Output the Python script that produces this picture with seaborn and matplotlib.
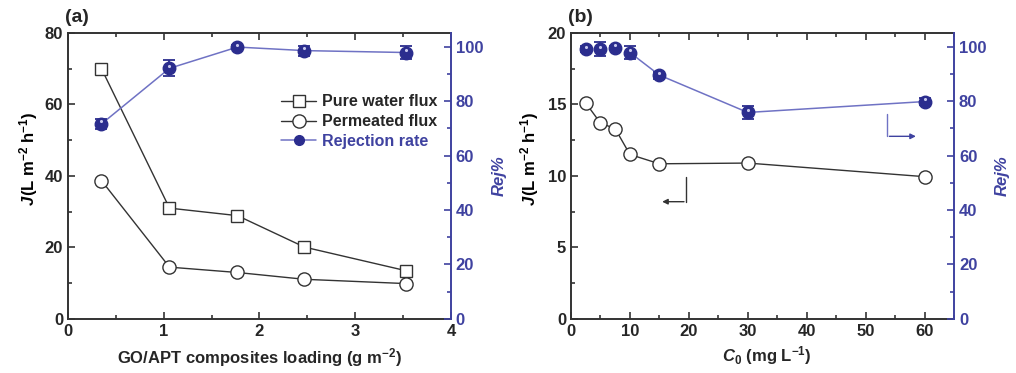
import numpy as np
import matplotlib.pyplot as plt
import seaborn as sns
import pandas as pd
from matplotlib.ticker import MultipleLocator

sns.set_theme(style="ticks")
plt.rcParams['font.family'] = ['Liberation Sans', 'DejaVu Sans']
plt.rcParams['font.weight'] = 'bold'
plt.rcParams['mathtext.fontset'] = 'custom'
plt.rcParams['mathtext.rm'] = 'Liberation Sans:weight=bold'
plt.rcParams['mathtext.it'] = 'Liberation Sans:style=italic:weight=bold'
plt.rcParams['mathtext.bf'] = 'Liberation Sans:weight=bold'
plt.rcParams['mathtext.default'] = 'rm'

# panel (a): flux / rejection vs GO/APT loading
loading = [0.35, 1.06, 1.77, 2.47, 3.53]
pure_flux = [70.0, 31.0, 28.9, 20.1, 13.5]
perm_flux = [38.7, 14.5, 13.0, 11.1, 9.9]
rej_a = [71.6, 92.0, 99.8, 98.5, 97.8]
rej_a_err = [1.8, 3.0, 0.6, 1.8, 2.4]

# panel (b): flux / rejection vs initial concentration
c0 = [2.5, 5, 7.5, 10, 15, 30, 60]
flux_b = [15.1, 13.7, 13.3, 11.5, 10.85, 10.9, 9.95]
rej_b = [99.1, 99.1, 99.5, 97.8, 89.5, 75.8, 79.8]
rej_b_err = [1.0, 2.4, 0.6, 2.4, 1.3, 2.5, 1.3]

NAVY = '#2b2d8e'
LINE_BLUE = '#6f72c4'
AX_BLUE = '#3f42a0'
DARK = '#333333'
TICK_FS = 12
LABEL_FS = 12

fig = plt.figure(figsize=(10.16, 3.73), dpi=100)
ax_a = fig.add_axes([0.0669, 0.1448, 0.377, 0.767])
ax_b = fig.add_axes([0.562, 0.1448, 0.377, 0.767])


def style_axes(ax, tw):
    for s in ['left', 'bottom', 'top']:
        ax.spines[s].set_color(DARK)
        ax.spines[s].set_linewidth(1.4)
    ax.spines['right'].set_visible(False)
    ax.tick_params(which='both', direction='in', top=True, right=False,
                   color=DARK, labelsize=TICK_FS, width=1.2)
    ax.tick_params(which='major', length=5)
    ax.tick_params(which='minor', length=3)
    for s in ['left', 'bottom', 'top']:
        tw.spines[s].set_visible(False)
    tw.spines['right'].set_color(AX_BLUE)
    tw.spines['right'].set_linewidth(1.4)
    tw.tick_params(which='both', direction='in', color=AX_BLUE,
                   labelcolor=AX_BLUE, labelsize=TICK_FS, width=1.2)
    tw.tick_params(which='major', length=5)
    tw.tick_params(which='minor', length=3)
    tw.set_ylim(0, 105)
    tw.yaxis.set_major_locator(MultipleLocator(20))
    tw.yaxis.set_minor_locator(MultipleLocator(10))
    tw.set_ylabel('Rej%', color=AX_BLUE, fontsize=LABEL_FS, fontweight='bold',
                  fontstyle='italic', labelpad=6)
    for lab in ax.get_xticklabels() + ax.get_yticklabels() + tw.get_yticklabels():
        lab.set_fontweight('bold')


def rej_plot(tw, x, y, err, line_from=0):
    tw.plot(x[line_from:], y[line_from:], color=LINE_BLUE, lw=1.1, zorder=2)
    tw.errorbar(x, y, yerr=err, fmt='o', color=NAVY, ms=9, capsize=4,
                elinewidth=1.3, capthick=1.3, zorder=3)
    tw.scatter(np.array(x), np.array(y) + 0.9, s=5, color='#c8c9ee', zorder=4,
               linewidths=0)


def j_label(x_base, y_split):
    # italic J followed by the upright unit, rotated as a y label
    kw = dict(rotation=90, rotation_mode='anchor', va='baseline',
              fontsize=LABEL_FS, fontweight='bold', color='black')
    fig.text(x_base / 1016, 1 - y_split / 373, 'J', ha='right',
             fontstyle='italic', **kw)
    fig.text(x_base / 1016, 1 - y_split / 373,
             '(L m$^{-2}$ h$^{-1}$)', ha='left', **kw)


# ---- panel (a)
df_a = pd.DataFrame({'x': loading, 'pure': pure_flux, 'perm': perm_flux})
sns.lineplot(data=df_a, x='x', y='pure', ax=ax_a, color=DARK, lw=1.0,
             marker='s', markersize=8.5, markerfacecolor='white',
             markeredgecolor=DARK, markeredgewidth=1.0)
sns.lineplot(data=df_a, x='x', y='perm', ax=ax_a, color=DARK, lw=1.0,
             marker='o', markersize=9.5, markerfacecolor='white',
             markeredgecolor=DARK, markeredgewidth=1.0)
ax_a.set_xlim(0, 4)
ax_a.set_ylim(0, 80)
ax_a.xaxis.set_major_locator(MultipleLocator(1))
ax_a.xaxis.set_minor_locator(MultipleLocator(0.5))
ax_a.yaxis.set_major_locator(MultipleLocator(20))
ax_a.yaxis.set_minor_locator(MultipleLocator(10))
ax_a.set_xlabel('GO/APT composites loading (g m$^{-2}$)', fontsize=LABEL_FS,
                fontweight='bold', labelpad=5)
ax_a.set_ylabel('')
tw_a = ax_a.twinx()
rej_plot(tw_a, loading, rej_a, rej_a_err)
style_axes(ax_a, tw_a)
j_label(34, 196)

h1 = plt.Line2D([], [], color=DARK, lw=1.0, marker='s', ms=8.5,
                mfc='white', mec=DARK)
h2 = plt.Line2D([], [], color=DARK, lw=1.0, marker='o', ms=9.5,
                mfc='white', mec=DARK)
h3 = plt.Line2D([], [], color=LINE_BLUE, lw=1.1, marker='o', ms=7,
                mfc=NAVY, mec=NAVY)
leg = ax_a.legend([h1, h2, h3], ['Pure water flux', 'Permeated flux',
                                 'Rejection rate'],
                  loc='upper left', bbox_to_anchor=(0.556, 0.785), frameon=False,
                  handlelength=2.2, handletextpad=0.4, borderpad=0,
                  borderaxespad=0, labelspacing=0.3,
                  prop={'weight': 'bold', 'size': 11.5})
leg.get_texts()[2].set_color(AX_BLUE)

# ---- panel (b)
df_b = pd.DataFrame({'x': c0, 'flux': flux_b})
sns.lineplot(data=df_b, x='x', y='flux', ax=ax_b, color=DARK, lw=1.0,
             marker='o', markersize=9.5, markerfacecolor='white',
             markeredgecolor=DARK, markeredgewidth=1.0)
ax_b.set_xlim(0, 65)
ax_b.set_ylim(0, 20)
ax_b.xaxis.set_major_locator(MultipleLocator(10))
ax_b.xaxis.set_minor_locator(MultipleLocator(5))
ax_b.yaxis.set_major_locator(MultipleLocator(5))
ax_b.yaxis.set_minor_locator(MultipleLocator(2.5))
ax_b.set_xlabel('')
ax_b.set_ylabel('')
tw_b = ax_b.twinx()
rej_plot(tw_b, c0, rej_b, rej_b_err, line_from=3)
style_axes(ax_b, tw_b)
j_label(535, 196)

# x label of (b): italic C, then subscript and unit
fig.text(734 / 1016, 1 - 361 / 373, 'C', ha='right', va='baseline',
         fontsize=LABEL_FS, fontweight='bold', fontstyle='italic')
fig.text(734 / 1016, 1 - 361 / 373, '$_0$ (mg L$^{-1}$)', ha='left',
         va='baseline', fontsize=LABEL_FS, fontweight='bold')

# direction arrows
ax_b.plot([19.6, 19.6], [9.95, 8.2], color=DARK, lw=1.0)
ax_b.annotate('', xy=(15.0, 8.2), xytext=(19.65, 8.2),
              arrowprops=dict(arrowstyle='-|>', color=DARK, lw=1.0,
                              mutation_scale=8))
ax_b.plot([53.6, 53.6], [14.35, 12.77], color=LINE_BLUE, lw=1.0)
ax_b.annotate('', xy=(59.0, 12.77), xytext=(53.55, 12.77),
              arrowprops=dict(arrowstyle='-|>', color=AX_BLUE, lw=1.0,
                              mutation_scale=8))

fig.text(0.064, 0.952, '(a)', fontsize=14, fontweight='bold', va='center')
fig.text(0.559, 0.952, '(b)', fontsize=14, fontweight='bold', va='center')

fig.savefig('out.png', dpi=100)
